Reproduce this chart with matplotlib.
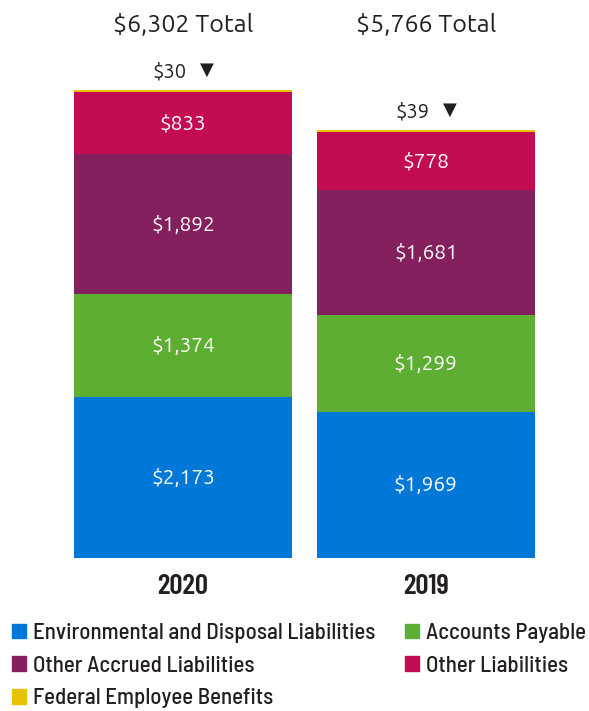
import matplotlib
matplotlib.use("Agg")
import matplotlib.pyplot as plt
from matplotlib.patches import Patch
from matplotlib.transforms import blended_transform_factory

# data (millions of dollars)
years = ['2020', '2019']
env_disposal = [2173, 1969]
accounts_payable = [1374, 1299]
other_accrued = [1892, 1681]
other_liab = [833, 778]
fed_benefits = [30, 39]
totals = [6302, 5766]

series_names = ['Environmental and Disposal Liabilities', 'Accounts Payable',
                'Other Accrued Liabilities', 'Other Liabilities',
                'Federal Employee Benefits']
series_colors = ['#0078D7', '#5DAE32', '#84205E', '#C30D52', '#E6C200']

ubuntu = ['Ubuntu', 'DejaVu Sans']
narrow = ['Barlow Semi Condensed', 'DejaVu Sans']
dark = '#231F20'

fig = plt.figure(figsize=(5.89, 7.11), dpi=100)
# axes placed in pixels: bars from x=74..535, bottom at y=558
ax = fig.add_axes([74 / 589, (711 - 558) / 711, 461 / 589, 498 / 711])

x = [0, 1]
width = 0.897
series = [env_disposal, accounts_payable, other_accrued, other_liab, fed_benefits]
bottom = [0, 0]
for vals, name, col in zip(series, series_names, series_colors):
    ax.bar(x, vals, width, bottom=bottom, color=col, label=name)
    if vals is not fed_benefits:
        for xi, v, b in zip(x, vals, bottom):
            ax.text(xi, b + v / 2, f'${v:,}', ha='center', va='center',
                    color='white', fontsize=15, family=ubuntu)
    bottom = [b + v for b, v in zip(bottom, vals)]

# small segment label sits above the bar
for xi, v, top in zip(x, fed_benefits, bottom):
    ax.annotate(f'${v}', (xi, top), xytext=(-10, 6), textcoords='offset points',
                ha='center', va='bottom', fontsize=14.5, color=dark, family=ubuntu)
    ax.annotate('\u25BC', (xi, top), xytext=(17, 8), textcoords='offset points',
                ha='center', va='bottom', fontsize=13, color=dark, family=['DejaVu Sans'])

ax.set_xlim(-0.4486, 1.4486)
ax.set_ylim(0, 498 / 0.0743)
ax.axis('off')

trans = blended_transform_factory(ax.transData, fig.transFigure)
for xi, t, yr in zip(x, totals, years):
    ax.text(xi, 1 - 25 / 711, f'${t:,} Total', transform=trans, ha='center',
            va='center', fontsize=18, color=dark, fontweight='bold', family=ubuntu)
    ax.text(xi, 1 - 586 / 711, yr, transform=trans, ha='center', va='center',
            fontsize=21, fontweight='semibold', color=dark,
            family=['Barlow Condensed', 'DejaVu Sans'])

order = [0, 2, 4, 1, 3]
handles = [Patch(color=series_colors[i]) for i in order]
labels = [series_names[i] for i in order]
fig.legend(handles, labels, ncol=2, loc='upper left',
           bbox_to_anchor=(3 / 589, 1 - 614 / 711), frameon=False,
           prop={'family': narrow, 'size': 16.5, 'weight': 'medium'},
           handlelength=0.6, handleheight=0.6, handletextpad=0.3,
           labelspacing=0.55, columnspacing=1.3, borderaxespad=0,
           labelcolor=dark)

fig.savefig('out.png', dpi=100)
